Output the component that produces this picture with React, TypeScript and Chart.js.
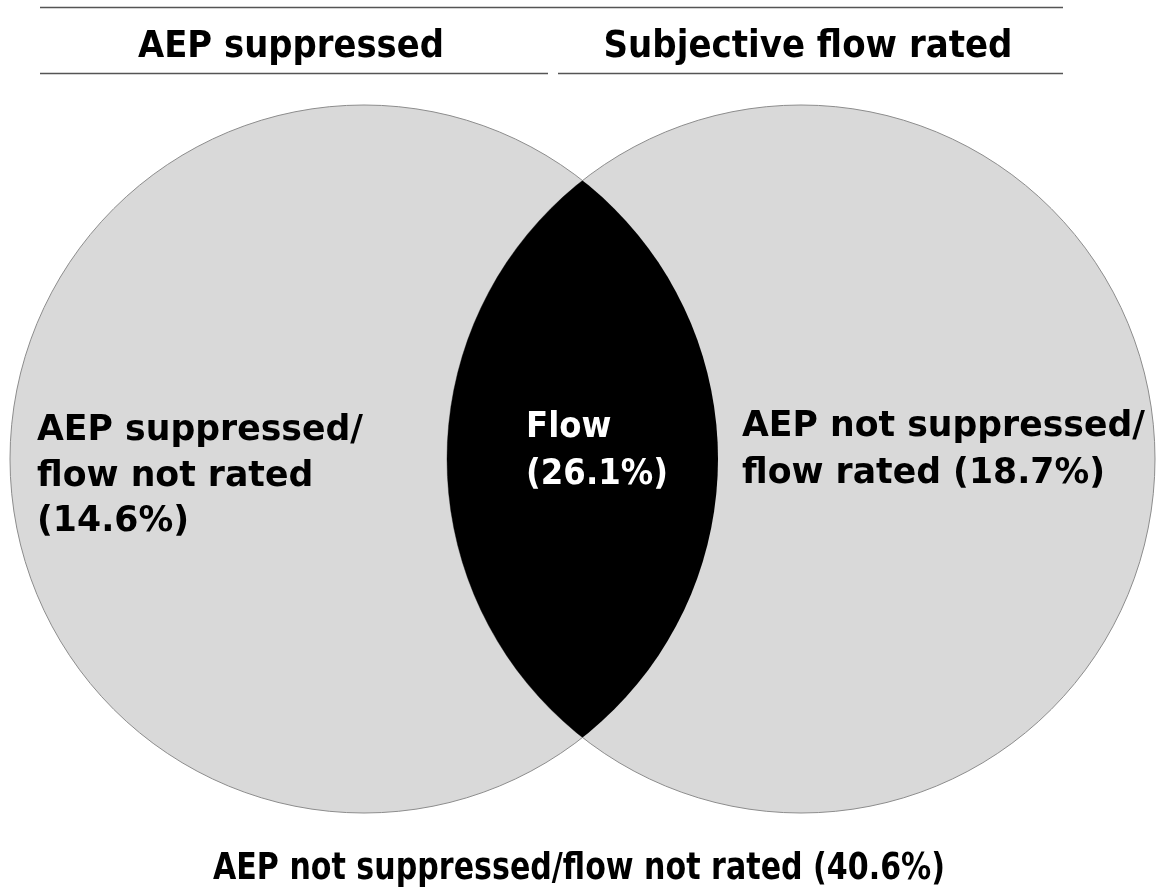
import React, { useEffect, useRef } from "react";
import { Chart, registerables } from "chart.js";

Chart.register(...registerables);

// ---- data ----
const setNames: string[] = ["AEP suppressed", "Subjective flow rated"];
const leftOnlyLines: string[] = ["AEP suppressed/", "flow not rated", "(14.6%)"];
const bothLines: string[] = ["Flow", "(26.1%)"];
const rightOnlyLines: string[] = ["AEP not suppressed/", "flow rated (18.7%)"];
const outsideLabel = "AEP not suppressed/flow not rated (40.6%)";
const regionShares: number[] = [14.6, 26.1, 18.7, 40.6];

// ---- layout (scale units = canvas pixels) ----
const W = 1157;
const H = 891;
const circles = [
  { x: 364, y: 459, r: 354 },
  { x: 801, y: 459, r: 354 },
];
const FAMILY = "'DejaVu Sans', 'Noto Sans', sans-serif";

type TextBlock = {
  lines: string[];
  x: number;
  baselines: number[];
  size: number;
  fitLine: number;
  fitWidth: number;
  align: "left" | "center";
  color: string;
};

const blocks: TextBlock[] = [
  { lines: [setNames[0]], x: 291, baselines: [57], size: 37, fitLine: 0, fitWidth: 306, align: "center", color: "#000" },
  { lines: [setNames[1]], x: 808, baselines: [57], size: 37, fitLine: 0, fitWidth: 409, align: "center", color: "#000" },
  { lines: leftOnlyLines, x: 37, baselines: [440, 486, 531], size: 35, fitLine: 0, fitWidth: 326, align: "left", color: "#000" },
  { lines: bothLines, x: 526, baselines: [437, 484], size: 36, fitLine: 1, fitWidth: 142, align: "left", color: "#fff" },
  { lines: rightOnlyLines, x: 742, baselines: [436, 483], size: 35, fitLine: 0, fitWidth: 403, align: "left", color: "#000" },
  { lines: [outsideLabel], x: 579, baselines: [879], size: 38, fitLine: 0, fitWidth: 732, align: "center", color: "#000" },
];

export default function App() {
  const ref = useRef<HTMLCanvasElement | null>(null);

  useEffect(() => {
    document.body.style.margin = "0";
    const canvas = ref.current;
    if (!canvas) return;

    const vennPlugin = {
      id: "venn",
      afterDatasetsDraw(chart: any) {
        const { ctx, scales } = chart;
        const px = (v: number) => scales.x.getPixelForValue(v);
        const py = (v: number) => scales.y.getPixelForValue(v);
        const a = circles[0];
        const b = circles[1];
        ctx.save();
        ctx.beginPath();
        ctx.arc(px(a.x), py(a.y), a.r, 0, Math.PI * 2);
        ctx.clip();
        ctx.beginPath();
        ctx.arc(px(b.x), py(b.y), b.r, 0, Math.PI * 2);
        ctx.fillStyle = "#000000";
        ctx.fill();
        ctx.restore();
      },
      afterDraw(chart: any) {
        const { ctx, scales } = chart;
        const px = (v: number) => scales.x.getPixelForValue(v);
        const py = (v: number) => scales.y.getPixelForValue(v);
        ctx.save();
        ctx.strokeStyle = "#555555";
        ctx.lineWidth = 1.5;
        const line = (x1: number, y1: number, x2: number, y2: number) => {
          ctx.beginPath();
          ctx.moveTo(px(x1), py(y1));
          ctx.lineTo(px(x2), py(y2));
          ctx.stroke();
        };
        line(40, 7.5, 1063, 7.5);
        line(40, 73.5, 548, 73.5);
        line(558, 73.5, 1063, 73.5);

        ctx.textBaseline = "alphabetic";
        blocks.forEach((bk) => {
          ctx.font = `bold ${bk.size}px ${FAMILY}`;
          const mw = ctx.measureText(bk.lines[bk.fitLine]).width;
          const sx = bk.fitWidth / mw;
          ctx.fillStyle = bk.color;
          bk.lines.forEach((t, i) => {
            ctx.save();
            ctx.translate(px(bk.x), py(bk.baselines[i]));
            ctx.scale(sx, 1);
            ctx.textAlign = bk.align;
            ctx.fillText(t, 0, 0);
            ctx.restore();
          });
        });
        ctx.restore();
      },
    };

    const chart = new Chart(canvas, {
      type: "bubble",
      data: {
        datasets: [
          {
            label: "sets",
            data: circles.map((c, i) => ({ x: c.x, y: c.y, r: c.r, share: regionShares[i] })) as any,
            backgroundColor: "#d9d9d9",
            borderColor: "#8c8c8c",
            borderWidth: 1,
            hoverRadius: 0,
            clip: false as any,
          },
        ],
      },
      options: {
        animation: false,
        responsive: false,
        maintainAspectRatio: false,
        layout: { padding: 0, autoPadding: false },
        events: [],
        plugins: {
          legend: { display: false },
          tooltip: { enabled: false },
          title: { display: false },
        },
        scales: {
          x: { type: "linear", min: 0, max: W, display: false },
          y: { type: "linear", min: 0, max: H, reverse: true, display: false },
        },
      },
      plugins: [vennPlugin],
    });
    return () => chart.destroy();
  }, []);

  return (
    <div style={{ position: "absolute", left: 0, top: 0, width: W, height: H, background: "#ffffff" }}>
      <canvas ref={ref} width={W} height={H} style={{ display: "block", width: W, height: H }} />
    </div>
  );
}
